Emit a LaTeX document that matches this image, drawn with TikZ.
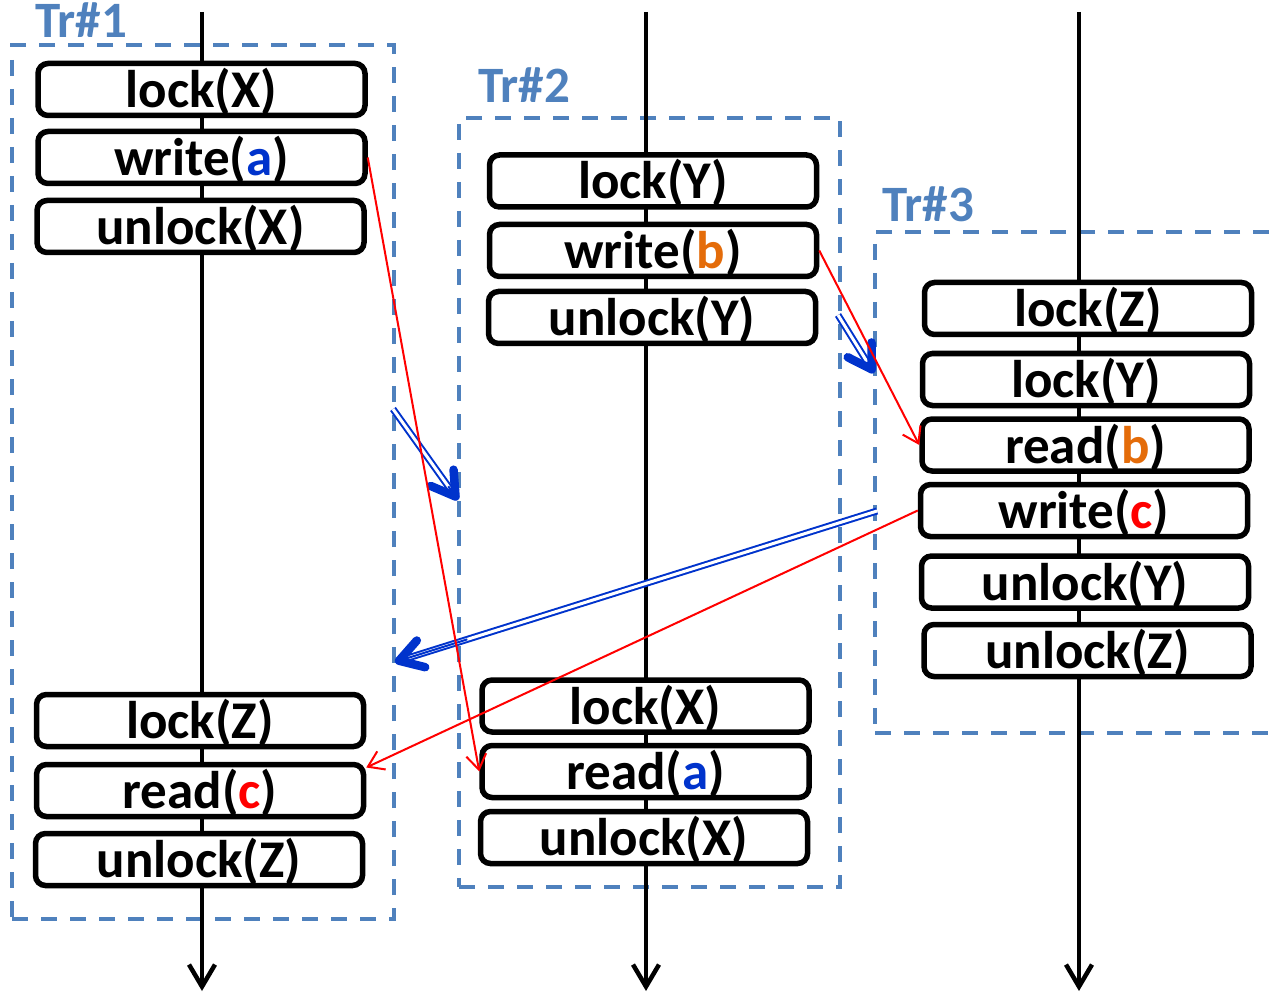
\documentclass[tikz,border=0pt]{standalone}
\usepackage{fontspec}
\setmainfont{Carlito}
\usetikzlibrary{arrows.meta,calc}
\definecolor{grpblue}{HTML}{4F81BD}
\definecolor{depblue}{HTML}{0033CC}
\definecolor{valblue}{HTML}{0033CC}
\definecolor{valorange}{HTML}{E46C0A}
\definecolor{valred}{HTML}{FF0000}
\begin{document}
\begin{tikzpicture}[x=1pt,y=-1pt,
  op/.style={draw, line width=5.5pt, rounded corners=10pt, fill=white,
    minimum width=327pt, minimum height=52pt, inner sep=0pt,
    text height=40pt, text depth=4pt,
    font=\fontsize{53}{60}\selectfont\bfseries},
  group/.style={draw=grpblue, line width=3.5pt, dash pattern=on 16pt off 13pt,
    inner sep=0pt},
  grplabel/.style={text=grpblue, font=\fontsize{51}{60}\selectfont\bfseries,
    anchor=base west, inner sep=0pt},
  timeline/.style={line width=4.5pt, -{Straight Barb[length=22pt,width=26pt]}},
  flow/.style={valred, line width=2pt, -{Straight Barb[length=15pt,width=20pt]}},
  depshaft/.style={draw=depblue, double=white, double distance=3pt,
    line width=2pt, shorten >=6pt},
  dephead/.style={depblue, line width=2pt,
    -{Straight Barb[length=23pt,width=28pt,line width=8.5pt,round]}}
]
\useasboundingbox (0,0) rectangle (1280,992);

% transaction frames
\node[group, minimum width=382pt, minimum height=874pt] (g1) at (203,482) {};
\node[group, minimum width=381pt, minimum height=769pt] (g2) at (649.5,502.5) {};
\node[group, minimum width=425pt, minimum height=501pt] (g3) at (1087.5,482.5) {};

\node[grplabel] (t1) at (35,38) {Tr\#1};
\node[grplabel] (t2) at (478,103) {Tr\#2};
\node[grplabel] (t3) at (882,222) {Tr\#3};

% time axes
\coordinate (a1top) at (202,12);  \coordinate (a1bot) at (202,991);
\coordinate (a2top) at (646,12);  \coordinate (a2bot) at (646,991);
\coordinate (a3top) at (1079,12); \coordinate (a3bot) at (1079,991);
\draw[timeline] (a1top) -- (a1bot);
\draw[timeline] (a2top) -- (a2bot);
\draw[timeline] (a3top) -- (a3bot);

% Tr#1 operations
\node[op] (lx1) at (201.5,89.5)  {lock(X)};
\node[op] (wa)  at (201.5,157.5) {write({\color{valblue}a})};
\node[op] (ux1) at (200.5,226.5) {unlock(X)};
\node[op] (lz1) at (200,720.5)   {lock(Z)};
\node[op] (rc)  at (200,790.5)   {read({\color{valred}c})};
\node[op] (uz1) at (199,859.5)   {unlock(Z)};

% Tr#2 operations
\node[op] (ly2) at (653,181)     {lock(Y)};
\node[op] (wb)  at (653,250.5)   {write({\color{valorange}b})};
\node[op] (uy2) at (652,317.5)   {unlock(Y)};
\node[op] (lx2) at (645.5,706)   {lock(X)};
\node[op] (ra)  at (645.5,771.5) {read({\color{valblue}a})};
\node[op] (ux2) at (644,837.5)   {unlock(X)};

% Tr#3 operations
\node[op] (lz3) at (1088,308.5)  {lock(Z)};
\node[op] (ly3) at (1086,379.5)  {lock(Y)};
\node[op] (rb)  at (1085.5,445)  {read({\color{valorange}b})};
\node[op] (wc)  at (1084,510.5)  {write({\color{valred}c})};
\node[op] (uy3) at (1085,582)    {unlock(Y)};
\node[op] (uz3) at (1087.5,650.5){unlock(Z)};

% precedence between transactions
\coordinate (d1s) at (393,409); \coordinate (d1e) at (458,500);
\coordinate (d2s) at (838,315); \coordinate (d2e) at (874,373);
\coordinate (d3s) at (877,511); \coordinate (d3e) at (395,662);
\foreach \s/\e in {d1s/d1e, d2s/d2e, d3s/d3e}{
  \draw[depshaft] (\s) -- (\e);
  \draw[dephead] ($(\s)!0.85!(\e)$) -- (\e);
}

% read-from dependencies
\draw[flow] (wa.east) -- (ra.west);
\draw[flow] (wb.east) -- (rb.west);
\draw[flow] (wc.west) -- ([yshift=23pt]rc.east);
\end{tikzpicture}
\end{document}
